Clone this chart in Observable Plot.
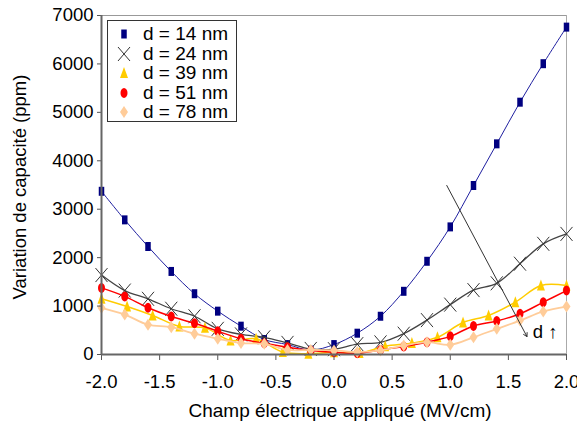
<!DOCTYPE html>
<html><head><meta charset="utf-8">
<script src="https://cdn.jsdelivr.net/npm/d3@7"></script>
<script src="https://cdn.jsdelivr.net/npm/@observablehq/plot@0.6"></script>
<style>
body{margin:0;background:#fff;}
#wrap{position:relative;width:577px;height:436px;font-family:"Liberation Sans",Arial,sans-serif;}
#legend{position:absolute;left:107px;top:20px;width:128px;height:100px;border:1px solid #333;background:#fff;font-size:19px;}
.row{position:absolute;left:0;height:20px;line-height:20px;white-space:nowrap;}
.row svg{position:absolute;left:8px;top:2px;}
.row span{position:absolute;left:35px;top:0;}
</style></head><body><div id="wrap"></div>
<script>
// x positions (MV/cm)
const x21 = [-2.0,-1.8,-1.6,-1.4,-1.2,-1.0,-0.8,-0.6,-0.4,-0.2,0.0,0.2,0.4,0.6,0.8,1.0,1.2,1.4,1.6,1.8,2.0];
const x19 = [-2.0,-1.78,-1.56,-1.33,-1.11,-0.89,-0.67,-0.44,-0.22,0.0,0.22,0.44,0.67,0.89,1.11,1.33,1.56,1.78,2.0];
// capacitance variation (ppm)
const d14 = [3370,2780,2230,1715,1255,895,585,310,205,90,205,440,790,1305,1925,2635,3490,4350,5210,6005,6760];
const d24 = [1640,1320,1150,945,790,530,415,355,240,115,110,215,250,430,710,1030,1330,1470,1875,2285,2490];
const d39 = [1150,990,805,580,550,290,325,50,15,45,30,170,235,355,660,805,1080,1425,1425];
const d51 = [1375,1200,965,785,645,480,325,230,150,85,45,25,95,165,255,375,590,690,840,1080,1320];
const d78 = [965,825,615,565,430,325,235,220,95,95,85,50,85,185,255,200,355,530,700,890,990];
const seriesNames = ["d = 14 nm","d = 24 nm","d = 39 nm","d = 51 nm","d = 78 nm"];
const xTicks = [-2.0,-1.5,-1.0,-0.5,0.0,0.5,1.0,1.5,2.0];
const yTicks = [0,1000,2000,3000,4000,5000,6000,7000];
const xTitle = "Champ électrique appliqué (MV/cm)";
const yTitle = "Variation de capacité (ppm)";
const annotArrow = [{x1:0.97, y1:3490, x2:1.66, y2:370}];
const annotText = [{x:1.71, y:460, label:"d \u2191"}];

// marker shapes
const k = 0.5523;
const sym = {
  rect: {draw(c){ c.rect(-2.75,-4.5,5.5,9); }},
  cross: {draw(c){ c.moveTo(-6,-7); c.lineTo(6,7); c.moveTo(6,-7); c.lineTo(-6,7); }},
  tri: {draw(c){ c.moveTo(0,-6); c.lineTo(4,5); c.lineTo(-4,5); c.closePath(); }},
  ell: {draw(c){ const rx=3.5, ry=5; c.moveTo(0,-ry);
    c.bezierCurveTo(k*rx,-ry,rx,-k*ry,rx,0); c.bezierCurveTo(rx,k*ry,k*rx,ry,0,ry);
    c.bezierCurveTo(-k*rx,ry,-rx,k*ry,-rx,0); c.bezierCurveTo(-rx,-k*ry,-k*rx,-ry,0,-ry); c.closePath(); }},
  dia: {draw(c){ c.moveTo(0,-6); c.lineTo(4,0); c.lineTo(0,6); c.lineTo(-4,0); c.closePath(); }}
};

const series = [
  {name:seriesNames[0], xs:x21, ys:d14, line:"#1f1fa0", lw:1, sym:sym.rect, fill:"#000080", stroke:"none"},
  {name:seriesNames[1], xs:x21, ys:d24, line:"#444444", lw:1.3, sym:sym.cross, fill:"none", stroke:"#333333"},
  {name:seriesNames[2], xs:x19, ys:d39, line:"#FFCC00", lw:1.5, sym:sym.tri, fill:"#FFCC00", stroke:"none"},
  {name:seriesNames[3], xs:x21, ys:d51, line:"#FF0000", lw:1.5, sym:sym.ell, fill:"#FF0000", stroke:"none"},
  {name:seriesNames[4], xs:x21, ys:d78, line:"#FFCC99", lw:1.8, sym:sym.dia, fill:"#FFCC99", stroke:"none"}
];
series.forEach(s => s.data = s.ys.map((v,i) => ({x:s.xs[i], y:v})));

const marks = [
  Plot.ruleY([7000], {stroke:"#999", strokeWidth:1}),
  Plot.ruleX([2], {stroke:"#aaa", strokeWidth:1}),
];
series.forEach(s => {
  marks.push(Plot.line(s.data, {x:"x", y:"y", stroke:s.line, strokeWidth:s.lw, curve:"catmull-rom"}));
  marks.push(Plot.dot(s.data, {x:"x", y:"y", symbol:s.sym, r:4, fill:s.fill, stroke:s.stroke, strokeWidth:1}));
});
marks.push(
  Plot.arrow(annotArrow, {x1:"x1", y1:"y1", x2:"x2", y2:"y2", stroke:"#333", strokeWidth:1, headLength:6}),
  Plot.text(annotText, {x:"x", y:"y", text:"label", textAnchor:"start", fontSize:18.5, fill:"#000"}),
  Plot.axisY({ticks:yTicks, tickSize:4, tickPadding:4, tickFormat:d => String(d), label:null, fontSize:18.5, stroke:"#555"}),
  Plot.axisX({ticks:xTicks, tickSize:6, tickPadding:14, tickFormat:d => d.toFixed(1), label:null, fontSize:18.5, stroke:"#555"}),
  Plot.ruleX([-2], {stroke:"#666", strokeWidth:2}),
  Plot.ruleY([0], {stroke:"#666", strokeWidth:2}),
  Plot.text([yTitle], {text:d => d, frameAnchor:"left", textAnchor:"middle", lineAnchor:"middle", dx:-81, dy:2, rotate:-90, fontSize:18.5, fill:"#000"}),
  Plot.text([xTitle], {text:d => d, frameAnchor:"bottom", textAnchor:"middle", lineAnchor:"middle", dy:56, dx:6, fontSize:19, fill:"#000"})
);

const chart = Plot.plot({
  width:577, height:436,
  marginTop:15, marginRight:11, marginBottom:82, marginLeft:101,
  x:{domain:[-2,2]}, y:{domain:[0,7000]},
  style:{fontFamily:"'Liberation Sans', Arial, sans-serif", fontSize:"18px", color:"#000", background:"#fff", overflow:"visible"},
  marks
});
const wrap = document.getElementById("wrap");
wrap.appendChild(chart);

// legend
const legend = document.createElement("div");
legend.id = "legend";
series.forEach((s,i) => {
  const row = document.createElement("div");
  row.className = "row";
  row.style.top = (3 + i*19.6) + "px";
  const p = d3.path(); s.sym.draw(p);
  row.innerHTML = `<svg width="16" height="16" viewBox="-8 -8 16 16"><path d="${p}" fill="${s.fill}" stroke="${s.stroke}" stroke-width="1"/></svg><span>${s.name}</span>`;
  legend.appendChild(row);
});
wrap.appendChild(legend);
</script>
</body></html>
